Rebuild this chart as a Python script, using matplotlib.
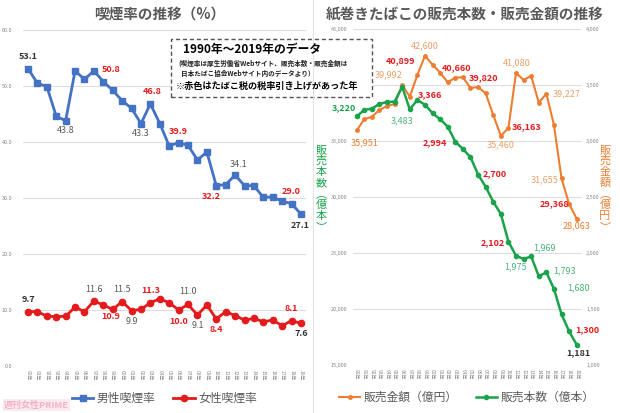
import matplotlib
matplotlib.use("Agg")
import matplotlib.pyplot as plt
from matplotlib.lines import Line2D

plt.rcParams['font.family'] = ['Noto Sans CJK JP', 'DejaVu Sans']

# data
years = list(range(1990, 2020))
year_labels = ["%02d年" % (y % 100) for y in years]

male_rate = [53.1, 50.5, 49.9, 44.6, 43.8, 52.7, 51.2, 52.7, 50.8, 49.2,
             47.4, 46.0, 43.3, 46.8, 43.3, 39.3, 39.9, 39.4, 36.8, 38.2,
             32.2, 32.4, 34.1, 32.2, 32.2, 30.1, 30.2, 29.4, 29.0, 27.1]
female_rate = [9.7, 9.7, 8.9, 8.8, 8.9, 10.5, 9.7, 11.6, 10.9, 10.1,
               11.5, 9.9, 10.1, 11.3, 12.0, 11.3, 10.0, 11.0, 9.1, 10.9,
               8.4, 9.7, 9.0, 8.2, 8.5, 7.9, 8.2, 7.2, 8.1, 7.6]

sales_yen = [35951, 36940, 37170, 37770, 38130, 38300, 39992, 38960, 40899, 42600,
             41820, 41100, 40240, 40660, 40690, 39735, 39820, 39260, 37320, 35460,
             36163, 41080, 40450, 40810, 38420, 39227, 36430, 31655, 29368, 28063]
sales_units = [3220, 3277, 3289, 3331, 3349, 3351, 3483, 3283, 3366, 3324,
               3248, 3194, 3128, 2994, 2929, 2855, 2700, 2592, 2458, 2348,
               2102, 1975, 1947, 1969, 1793, 1827, 1680, 1453, 1300, 1181]

BLUE = '#4472C4'
RED = '#E41A1C'
ORANGE = '#ED7D31'
GREEN = '#1AA34A'
GRAY = '#595959'
DARK = '#333333'
LORANGE = '#E8A06A'
LGREEN = '#4DB37A'

W, H = 620, 413
fig = plt.figure(figsize=(6.2, 4.13), dpi=100)


def fx(px):
    return px / W


def fy(py):
    return 1 - py / H


x = list(range(len(years)))

# ---------------- left: smoking rate
ax = fig.add_axes([fx(23.3), fy(366), fx(305.7) - fx(23.3), fy(30) - fy(366)])
ax.plot(x, male_rate, color=BLUE, lw=2, marker='s', ms=4.5, label='男性喫煙率')
ax.plot(x, female_rate, color=RED, lw=2, marker='o', ms=4.5, label='女性喫煙率')
ax.set_xlim(-0.5, len(years) - 0.5)
ax.set_ylim(0, 60)
ax.set_yticks(range(0, 61, 10))
ax.set_yticklabels(["%.1f" % v for v in range(0, 61, 10)])
ax.set_xticks(x)
ax.set_xticklabels(year_labels, rotation=-90)
ax.tick_params(axis='y', labelsize=4, colors='#888888', length=0, pad=8)
ax.tick_params(axis='x', labelsize=3.5, colors='#888888', length=0, pad=3)
ax.grid(axis='y', color='#DDDDDD', lw=0.8)
ax.set_axisbelow(True)
for s in ax.spines.values():
    s.set_visible(False)


def lab(a, i, vals, text, dx, dy, color, bold=False, size=6.5, ha='center'):
    a.annotate(text, (i, vals[i]), xytext=(dx, dy), textcoords='offset pixels',
               ha=ha, va='center', color=color, fontsize=size,
               fontweight='bold' if bold else 'normal')


# (index, dx, dy, color, bold)
male_labels = [(0, 0, 12, DARK, True), (4, 0, -10, GRAY, False), (8, 8, 12, RED, True),
               (12, 0, -10, GRAY, False), (13, 2, 12, RED, True), (16, 0, 11, RED, True),
               (20, -5, -11, RED, True), (22, 3, 11, GRAY, False), (28, 0, 12, RED, True),
               (29, -1, -11, DARK, True)]
female_labels = [(0, 0, 12, DARK, True), (7, 0, 12, GRAY, False), (8, 7, -12, RED, True),
                 (10, 0, 12, GRAY, False), (11, 0, -11, GRAY, False), (13, 0, 12, RED, True),
                 (16, 0, -11, RED, True), (17, 0, 13, GRAY, False), (18, 0, -10, GRAY, False),
                 (20, 0, -11, RED, True), (28, 0, 12, RED, True), (29, 0, -10, DARK, True)]
for i, dx, dy, c, b in male_labels:
    lab(ax, i, male_rate, "%.1f" % male_rate[i], dx, dy, c, b)
for i, dx, dy, c, b in female_labels:
    lab(ax, i, female_rate, "%.1f" % female_rate[i], dx, dy, c, b)

ax.legend(loc='upper center', bbox_to_anchor=(0.5, -0.045), ncol=2, frameon=False,
          fontsize=8.5, labelcolor=GRAY, handlelength=1.8, columnspacing=1.5,
          handletextpad=0.3)

fig.text(fx(160), fy(14), '喫煙率の推移（%）', ha='center', va='center',
         fontsize=10.5, fontweight='bold', color=GRAY)

# ---------------- right: sales
ax2 = fig.add_axes([fx(352.9), fy(365), fx(580.5) - fx(352.9), fy(29) - fy(365)])
ax3 = ax2.twinx()
ax2.plot(x, sales_yen, color=ORANGE, lw=1.5, marker='o', ms=2.5)
ax3.plot(x, sales_units, color=GREEN, lw=1.8, marker='o', ms=3)
ax2.set_xlim(-0.5, len(years) - 0.5)
ax2.set_ylim(15000, 45000)
ax3.set_ylim(1000, 4000)
ax2.set_yticks(range(15000, 45001, 5000))
# the 40,000 label sits under the note box in the original
ax2.set_yticklabels(["" if v == 40000 else "{:,}".format(v) for v in range(15000, 45001, 5000)])
ax3.set_yticks(range(1000, 4001, 500))
ax3.set_yticklabels(["{:,}".format(v) for v in range(1000, 4001, 500)])
ax2.set_xticks(x)
ax2.set_xticklabels(year_labels, rotation=-90)
ax2.tick_params(axis='y', labelsize=4, colors='#888888', length=0, pad=4)
ax3.tick_params(axis='y', labelsize=4, colors='#888888', length=0, pad=4)
ax2.tick_params(axis='x', labelsize=3.5, colors='#888888', length=0, pad=3)
ax2.grid(axis='y', color='#DDDDDD', lw=0.8)
ax2.set_axisbelow(True)
for a in (ax2, ax3):
    for s in a.spines.values():
        s.set_visible(False)

yen_labels = [(0, 8, -12, ORANGE, False), (6, -14, 10, LORANGE, False), (8, -17, 14, RED, True),
              (9, 0, 10, LORANGE, False), (13, 1, 10, RED, True), (16, 5, 9, RED, True),
              (19, 0, -9, LORANGE, False), (20, 18, 1, RED, True), (21, 1, 10, LORANGE, False),
              (25, 20, 0, LORANGE, False), (27, -17, -1, LORANGE, False),
              (28, -15, 0, RED, True), (29, 0, -7, ORANGE, False)]
unit_labels = [(0, -13, 9, GREEN, True), (6, 0, -34, LGREEN, False), (8, 13, 5, RED, True),
               (13, -20, -1, RED, True), (16, 17, 1, RED, True), (20, -16, -1, RED, True),
               (21, 0, -11, LGREEN, False), (23, 13, 9, LGREEN, False),
               (24, 26, 5, LGREEN, False), (26, 25, 1, LGREEN, False),
               (28, 18, 2, RED, True), (29, 2, -8, DARK, True)]
for i, dx, dy, c, b in yen_labels:
    lab(ax2, i, sales_yen, "{:,}".format(sales_yen[i]), dx, dy, c, b)
for i, dx, dy, c, b in unit_labels:
    lab(ax3, i, sales_units, "{:,}".format(sales_units[i]), dx, dy, c, b)

handles = [Line2D([], [], color=ORANGE, lw=1.5, marker='o', ms=2.5),
           Line2D([], [], color=GREEN, lw=1.8, marker='o', ms=3)]
ax2.legend(handles, ['販売金額（億円）', '販売本数（億本）'], loc='upper center',
           bbox_to_anchor=(0.5, -0.045), ncol=2, frameon=False, fontsize=8.5,
           labelcolor=GRAY, handlelength=1.8, columnspacing=1.5, handletextpad=0.3)

fig.text(fx(465), fy(14), '紙巻きたばこの販売本数・販売金額の推移', ha='center', va='center',
         fontsize=10.5, fontweight='bold', color=GRAY)


# vertical axis titles, one character per line (vertical-form brackets)
def vtitle(px, text, color):
    for k, ch in enumerate(text):
        fig.text(fx(px), fy(150 + k * 11), ch, ha='center', va='center',
                 fontsize=8, color=color)


vtitle(321, '販売本数︵億本︶', GREEN)
vtitle(605, '販売金額︵億円︶', ORANGE)

# separator
fig.add_artist(Line2D([fx(313), fx(313)], [0, 1], color='#E3E3E3', lw=0.8))

# note box
box = plt.Rectangle((fx(171), fy(97)), fx(372) - fx(171), fy(39) - fy(97),
                    transform=fig.transFigure, fill=True, facecolor='white',
                    edgecolor='#555555', lw=1, ls=(0, (3, 2)))
fig.add_artist(box)
fig.text(fx(183), fy(50), '1990年〜2019年のデータ', ha='left', va='center',
         fontsize=8.5, fontweight='bold', color='black')
fig.text(fx(178), fy(63), '(喫煙率は厚生労働省Webサイト、販売本数・販売金額は', ha='left',
         va='center', fontsize=4.8, fontweight='bold', color='#222222')
fig.text(fx(181), fy(73), '日本たばこ協会Webサイト内のデータより）', ha='left',
         va='center', fontsize=4.8, fontweight='bold', color='#222222')
fig.text(fx(176), fy(86), '※赤色はたばこ税の税率引き上げがあった年', ha='left',
         va='center', fontsize=6.6, fontweight='bold', color='black')

fig.text(fx(4), fy(405), '週刊女性PRIME', ha='left', va='center', fontsize=6.5,
         fontweight='bold', color='#F2B3C4',
         bbox=dict(facecolor='#FBE6EC', edgecolor='none', pad=0.8, alpha=0.8))

fig.savefig('out.png', dpi=100, facecolor='white')
